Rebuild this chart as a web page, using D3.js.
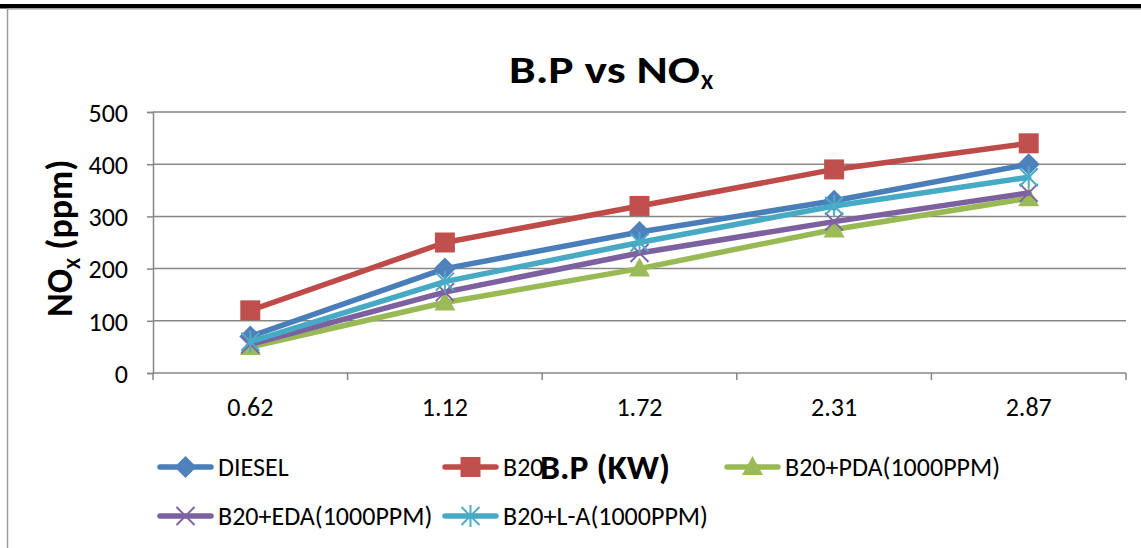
<!DOCTYPE html>
<html>
<head>
<meta charset="utf-8">
<script src="https://cdn.jsdelivr.net/npm/d3@7"></script>
<style>
  html, body { margin: 0; padding: 0; background: #fff; }
  svg { display: block; }
  text { font-family: Carlito, Lato, "Liberation Sans", sans-serif; fill: #000; }
</style>
</head>
<body>
<svg id="chart" width="1141" height="548"></svg>
<script>
// Brake power (kW) categories
const categories = ["0.62", "1.12", "1.72", "2.31", "2.87"];

// NOx emissions (ppm) per fuel blend
const diesel = [70, 200, 270, 330, 400];
const b20    = [120, 250, 320, 390, 440];
const b20Pda = [50, 135, 200, 275, 335];
const b20Eda = [55, 155, 230, 290, 345];
const b20La  = [60, 175, 250, 320, 375];

const seriesNames = ["DIESEL", "B20", "B20+PDA(1000PPM)", "B20+EDA(1000PPM)", "B20+L-A(1000PPM)"];
const yTicks = [0, 100, 200, 300, 400, 500];

const series = [
  { name: seriesNames[0], values: diesel, color: "#4A7EBB", fill: "#4F81BD", marker: "diamond" },
  { name: seriesNames[1], values: b20,    color: "#BE4B48", fill: "#C0504D", marker: "square" },
  { name: seriesNames[2], values: b20Pda, color: "#98B954", fill: "#9BBB59", marker: "triangle" },
  { name: seriesNames[3], values: b20Eda, color: "#7D60A0", fill: "#8064A2", marker: "x" },
  { name: seriesNames[4], values: b20La,  color: "#46AAC5", fill: "#4BACC6", marker: "star" }
];

const svg = d3.select("#chart");

// page frame: heavy rule at the top and a thin border on the left
svg.append("rect").attr("x", 0).attr("y", 4).attr("width", 1141).attr("height", 4.5).attr("fill", "#000");
svg.append("line").attr("x1", 7).attr("x2", 1141).attr("y1", 9.2).attr("y2", 9.2)
  .attr("stroke", "#c8c8c8").attr("stroke-width", 1.5);
svg.append("line").attr("x1", 7.5).attr("x2", 7.5).attr("y1", 9).attr("y2", 548)
  .attr("stroke", "#9a9a9a").attr("stroke-width", 1.5);

const plot = { left: 153, right: 1126, top: 112, bottom: 373 };

const x = d3.scaleBand().domain(categories).range([plot.left, plot.right]).paddingInner(0).paddingOuter(0);
const y = d3.scaleLinear().domain([0, 500]).range([plot.bottom, plot.top]);
const cx = c => x(c) + x.bandwidth() / 2;

const gridColor = "#878787";
const labelSize = 26;

// horizontal gridlines
svg.append("g").selectAll("line").data(yTicks.filter(t => t > 0)).join("line")
  .attr("x1", plot.left).attr("x2", plot.right)
  .attr("y1", d => y(d)).attr("y2", d => y(d))
  .attr("stroke", gridColor).attr("stroke-width", 1.5);

// y axis
const yAxis = d3.axisLeft(y).tickValues(yTicks).tickSize(6).tickPadding(19).tickFormat(d3.format("d"));
const gy = svg.append("g").attr("transform", `translate(${plot.left},0)`).call(yAxis);
gy.select(".domain").attr("stroke", gridColor).attr("stroke-width", 1.5);
gy.selectAll(".tick line").attr("stroke", gridColor).attr("stroke-width", 1.5);
gy.selectAll(".tick text").attr("font-size", labelSize).attr("font-family", "Carlito, Lato, 'Liberation Sans', sans-serif")
  .attr("fill", "#000").attr("dy", "0.36em");

// x axis: tick marks sit on the category boundaries, labels at band centres
const gx = svg.append("g").attr("transform", `translate(0,${plot.bottom})`);
gx.append("line").attr("x1", plot.left).attr("x2", plot.right).attr("y1", 0).attr("y2", 0)
  .attr("stroke", gridColor).attr("stroke-width", 1.5);
const bounds = categories.map(c => x(c)).concat([x(categories[categories.length - 1]) + x.bandwidth()]);
gx.selectAll("line.tk").data(bounds).join("line").attr("class", "tk")
  .attr("x1", d => d).attr("x2", d => d).attr("y1", 0).attr("y2", 7)
  .attr("stroke", gridColor).attr("stroke-width", 1.5);
gx.selectAll("text").data(categories).join("text")
  .attr("x", d => cx(d)).attr("y", 43).attr("text-anchor", "middle")
  .attr("font-size", labelSize).text(d => d);

// marker shapes
function drawMarker(g, type, px, py, s) {
  if (type === "diamond") {
    g.append("path").attr("d", `M${px},${py - 11}L${px + 11},${py}L${px},${py + 11}L${px - 11},${py}Z`)
      .attr("fill", s.fill);
  } else if (type === "square") {
    g.append("rect").attr("x", px - 10).attr("y", py - 10).attr("width", 20).attr("height", 20)
      .attr("fill", s.fill);
  } else if (type === "triangle") {
    g.append("path").attr("d", `M${px},${py - 11}L${px + 10.5},${py + 8}L${px - 10.5},${py + 8}Z`)
      .attr("fill", s.fill);
  } else if (type === "x") {
    g.append("path").attr("d", `M${px - 9},${py - 9}L${px + 9},${py + 9}M${px - 9},${py + 9}L${px + 9},${py - 9}`)
      .attr("stroke", s.fill).attr("stroke-width", 2).attr("fill", "none");
  } else if (type === "star") {
    g.append("path").attr("d", `M${px - 9},${py - 9}L${px + 9},${py + 9}M${px - 9},${py + 9}L${px + 9},${py - 9}M${px},${py - 11}L${px},${py + 11}`)
      .attr("stroke", s.fill).attr("stroke-width", 2).attr("fill", "none");
  }
}

// series lines with markers
const line = d3.line().x((d, i) => cx(categories[i])).y(d => y(d));
series.forEach(s => {
  const g = svg.append("g");
  g.append("path").datum(s.values).attr("d", line)
    .attr("fill", "none").attr("stroke", s.color).attr("stroke-width", 5.5)
    .attr("stroke-linejoin", "round").attr("stroke-linecap", "round");
  s.values.forEach((v, i) => drawMarker(g, s.marker, cx(categories[i]), y(v), s));
});

// title
svg.append("text").attr("x", 509).attr("y", 83).attr("font-size", 38).attr("font-weight", "bold")
  .attr("textLength", 191).attr("lengthAdjust", "spacingAndGlyphs").text("B.P vs NO");
svg.append("text").attr("x", 701).attr("y", 89).attr("font-size", 22).attr("font-weight", "bold")
  .text("X");

// y axis title (rotated)
const yt = svg.append("text").attr("transform", "translate(72,317) rotate(-90)")
  .attr("font-size", 36).attr("font-weight", "bold");
yt.append("tspan").text("NO");
yt.append("tspan").attr("font-size", 20).attr("dy", 8).text("X");
yt.append("tspan").attr("dy", -8).text(" (ppm)");

// legend
const legendPos = [
  { x: 158, y: 467 }, { x: 443, y: 467 }, { x: 725, y: 467 },
  { x: 158, y: 516 }, { x: 443, y: 516 }
];
series.forEach((s, i) => {
  const p = legendPos[i];
  const g = svg.append("g");
  g.append("line").attr("x1", p.x + 2).attr("x2", p.x + 53).attr("y1", p.y).attr("y2", p.y)
    .attr("stroke", s.color).attr("stroke-width", 5.5).attr("stroke-linecap", "round");
  drawMarker(g, s.marker, p.x + 27.5, p.y, s);
  g.append("text").attr("x", p.x + 60).attr("y", p.y + 9).attr("font-size", labelSize).text(s.name);
});

// x axis title, drawn last so it sits over the legend row
svg.append("text").attr("x", 605).attr("y", 479).attr("text-anchor", "middle")
  .attr("font-size", 34).attr("font-weight", "bold")
  .attr("textLength", 130).attr("lengthAdjust", "spacingAndGlyphs").text("B.P (KW)");
</script>
</body>
</html>
